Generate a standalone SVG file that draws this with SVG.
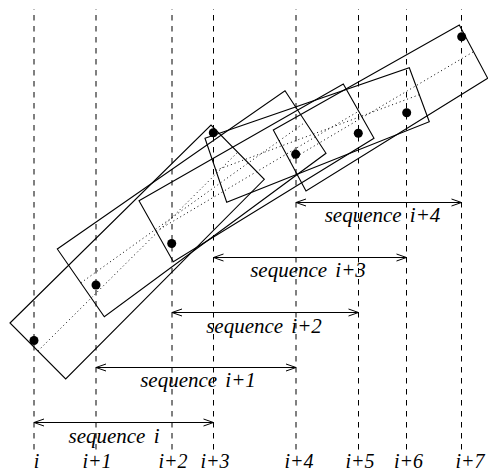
<svg xmlns="http://www.w3.org/2000/svg" width="488" height="473" viewBox="0 0 488 473">
<style>
.grid{stroke:#000;stroke-width:1;stroke-dasharray:5.5 5.5;stroke-dashoffset:5;fill:none}
.box{stroke:#000;stroke-width:1.1;fill:none;stroke-linejoin:miter}
.axis{stroke:#000;stroke-width:1;stroke-dasharray:1 3;fill:none}
.arr{stroke:#000;stroke-width:1;fill:none}
.dot{fill:#000}
text{font-family:"Liberation Serif","Times New Roman",serif;font-style:italic;font-size:21px;fill:#000}
.lbl{text-anchor:middle;word-spacing:3px}
.idx{text-anchor:middle;font-size:20px}
</style>
<g id="gridlines">
<path class="grid" d="M34 9V452M96 9V452M172 9V452M213.5 9V452M296 9V452M358.5 9V452M406.5 9V452M461.5 9V452"/>
</g>
<g id="seq0">
<polygon class="box" points="10,323 211,125 264.3,179.3 65.7,379"/>
<line class="axis" x1="37.9" y1="351" x2="237.7" y2="152.2"/>
</g>
<g id="seq1">
<polygon class="box" points="57.3,249 285,90.7 326,153.3 104.3,316.7"/>
<line class="axis" x1="80.8" y1="282.9" x2="305.5" y2="122"/>
</g>
<g id="seq2">
<polygon class="box" points="139,200.7 343.3,84 374,138.3 173.3,261.7"/>
<line class="axis" x1="156.2" y1="231.2" x2="358.7" y2="111.2"/>
</g>
<g id="seq3">
<polygon class="box" points="205,138.3 409.3,67.7 429.3,121.7 226.7,202.3"/>
<line class="axis" x1="215.9" y1="170.3" x2="419.3" y2="94.7"/>
</g>
<g id="seq4">
<polygon class="box" points="273.3,130 459.3,25 487.7,78.3 306,191"/>
<line class="axis" x1="289.7" y1="160.5" x2="473.5" y2="51.7"/>
</g>
<g id="points">
<circle class="dot" cx="34" cy="340.5" r="4.5"/>
<circle class="dot" cx="96" cy="285" r="4.5"/>
<circle class="dot" cx="171.7" cy="243.5" r="4.5"/>
<circle class="dot" cx="213.3" cy="132.7" r="4.5"/>
<circle class="dot" cx="295.7" cy="154.3" r="4.5"/>
<circle class="dot" cx="358.3" cy="133.3" r="4.5"/>
<circle class="dot" cx="406.7" cy="112.7" r="4.5"/>
<circle class="dot" cx="461.7" cy="36.7" r="4.5"/>
</g>
<g id="connectors">
<path class="arr" d="M34 422.5H213.5M44 419L34 422.5L44 426M203.5 419L213.5 422.5L203.5 426"/>
<path class="arr" d="M96 367.5H296M106 364L96 367.5L106 371M286 364L296 367.5L286 371"/>
<path class="arr" d="M172 312.5H358.5M182 309L172 312.5L182 316M348.5 309L358.5 312.5L348.5 316"/>
<path class="arr" d="M213.5 257.5H406.5M223.5 254L213.5 257.5L223.5 261M396.5 254L406.5 257.5L396.5 261"/>
<path class="arr" d="M296 202.5H461.5M306 199L296 202.5L306 206M451.5 199L461.5 202.5L451.5 206"/>
</g>
<g id="seq-labels">
<text class="lbl" x="114" y="443">sequence i</text>
<text class="lbl" x="198" y="387">sequence i+1</text>
<text class="lbl" x="264" y="333">sequence i+2</text>
<text class="lbl" x="308" y="277">sequence i+3</text>
<text class="lbl" x="382.5" y="222">sequence i+4</text>
</g>
<g id="index-labels">
<text class="idx" x="36.5" y="468">i</text>
<text class="idx" x="97" y="468">i+1</text>
<text class="idx" x="173" y="468">i+2</text>
<text class="idx" x="215" y="468">i+3</text>
<text class="idx" x="299" y="468">i+4</text>
<text class="idx" x="360" y="468">i+5</text>
<text class="idx" x="408.5" y="468">i+6</text>
<text class="idx" x="470" y="468">i+7</text>
</g>
</svg>
